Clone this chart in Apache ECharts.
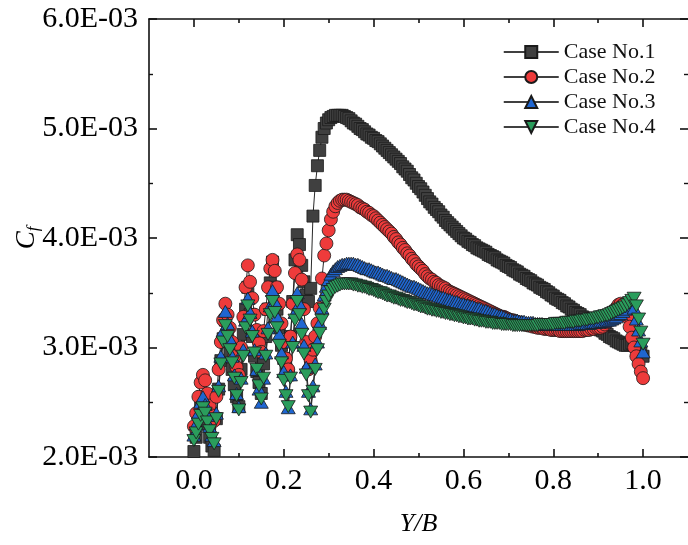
<!DOCTYPE html>
<html>
<head>
<meta charset="utf-8">
<script src="https://cdn.jsdelivr.net/npm/echarts@6/dist/echarts.min.js"></script>
<style>
  html, body { margin: 0; padding: 0; background: #ffffff; }
  #chart { width: 688px; height: 545px; }
</style>
</head>
<body>
<div id="chart"></div>
<script>
// Spanwise stations Y/B: first station and uniform spacing
const STATION_START = 0;
const STATION_STEP = 0.005;

// Skin-friction coefficient Cf, stored as Cf x 10^3 (one value per station)
const case1 = [
  2.05, 2.18, 2.32, 2.45, 2.55, 2.42, 2.30, 2.18, 2.10, 2.06,
  2.35, 2.62, 2.88, 3.08, 3.25, 3.10, 2.95, 2.80, 2.66, 2.55,
  2.46, 2.80, 3.12, 3.35, 3.55, 3.30, 3.10, 2.92, 2.78, 2.68,
  2.58, 2.85, 3.10, 3.35, 3.59, 3.78, 3.55, 3.35, 3.18, 3.02,
  2.90, 2.80, 2.75, 3.10, 3.42, 3.80, 4.03, 3.94, 3.75, 3.60,
  3.48, 3.42, 3.54, 4.20, 4.48, 4.66, 4.80, 4.92, 5.00, 5.05,
  5.08, 5.10, 5.11, 5.12, 5.12, 5.12, 5.12, 5.11, 5.10, 5.09,
  5.07, 5.05, 5.04, 5.02, 5.00, 4.99, 4.97, 4.95, 4.94, 4.92,
  4.91, 4.89, 4.88, 4.86, 4.84, 4.82, 4.80, 4.78, 4.76, 4.74,
  4.72, 4.70, 4.68, 4.65, 4.63, 4.61, 4.58, 4.55, 4.53, 4.50,
  4.47, 4.45, 4.42, 4.39, 4.36, 4.33, 4.31, 4.28, 4.26, 4.24,
  4.21, 4.19, 4.16, 4.14, 4.12, 4.10, 4.08, 4.06, 4.04, 4.02,
  4.00, 3.99, 3.97, 3.96, 3.94, 3.93, 3.91, 3.90, 3.89, 3.88,
  3.87, 3.85, 3.84, 3.83, 3.82, 3.80, 3.79, 3.78, 3.77, 3.75,
  3.74, 3.73, 3.71, 3.70, 3.69, 3.67, 3.66, 3.65, 3.63, 3.62,
  3.61, 3.59, 3.58, 3.57, 3.55, 3.54, 3.53, 3.51, 3.50, 3.48,
  3.47, 3.45, 3.44, 3.43, 3.41, 3.40, 3.38, 3.37, 3.35, 3.34,
  3.32, 3.31, 3.30, 3.28, 3.27, 3.25, 3.24, 3.22, 3.21, 3.19,
  3.18, 3.16, 3.15, 3.13, 3.12, 3.10, 3.09, 3.08, 3.06, 3.05,
  3.04, 3.03, 3.02, 3.02, 3.03, 3.04, 3.03, 3.01, 2.98, 2.95,
  2.92
];
const case2 = [
  2.28, 2.40, 2.55, 2.68, 2.75, 2.70, 2.58, 2.47, 2.38, 2.33,
  2.55, 2.80, 3.05, 3.25, 3.40, 3.30, 3.18, 3.05, 2.92, 2.82,
  2.75, 3.00, 3.28, 3.55, 3.75, 3.60, 3.45, 3.30, 3.16, 3.04,
  2.96, 3.15, 3.35, 3.55, 3.72, 3.80, 3.70, 3.55, 3.40, 3.22,
  3.05, 2.90, 2.80, 3.10, 3.40, 3.68, 3.85, 3.80, 3.62, 3.35,
  3.05, 2.80, 2.88, 2.98, 3.10, 3.22, 3.36, 3.63, 3.84, 3.95,
  4.07, 4.17, 4.24, 4.29, 4.32, 4.34, 4.35, 4.35, 4.35, 4.34,
  4.33, 4.32, 4.31, 4.30, 4.28, 4.27, 4.26, 4.24, 4.23, 4.21,
  4.20, 4.18, 4.16, 4.14, 4.12, 4.10, 4.08, 4.06, 4.04, 4.01,
  3.99, 3.96, 3.94, 3.91, 3.89, 3.86, 3.84, 3.81, 3.79, 3.76,
  3.74, 3.72, 3.70, 3.67, 3.65, 3.63, 3.62, 3.60, 3.59, 3.57,
  3.56, 3.55, 3.54, 3.52, 3.51, 3.50, 3.49, 3.48, 3.47, 3.46,
  3.45, 3.44, 3.43, 3.42, 3.41, 3.40, 3.39, 3.38, 3.37, 3.36,
  3.35, 3.34, 3.33, 3.32, 3.31, 3.30, 3.29, 3.28, 3.28, 3.27,
  3.26, 3.25, 3.25, 3.24, 3.23, 3.23, 3.22, 3.21, 3.21, 3.20,
  3.20, 3.19, 3.19, 3.18, 3.18, 3.18, 3.17, 3.17, 3.17, 3.16,
  3.16, 3.16, 3.16, 3.15, 3.15, 3.15, 3.15, 3.15, 3.15, 3.15,
  3.15, 3.15, 3.15, 3.15, 3.16, 3.16, 3.16, 3.17, 3.17, 3.18,
  3.18, 3.18, 3.19, 3.21, 3.23, 3.26, 3.29, 3.33, 3.36, 3.39,
  3.40, 3.39, 3.35, 3.28, 3.19, 3.09, 3.00, 2.92, 2.85, 2.78,
  2.72
];
const case3 = [
  2.20, 2.30, 2.40, 2.50, 2.55, 2.48, 2.38, 2.28, 2.20, 2.15,
  2.40, 2.65, 2.92, 3.15, 3.33, 3.22, 3.08, 2.92, 2.75, 2.58,
  2.46, 2.72, 2.98, 3.25, 3.45, 3.32, 3.15, 2.98, 2.80, 2.62,
  2.50, 2.72, 2.95, 3.18, 3.38, 3.52, 3.42, 3.28, 3.12, 2.95,
  2.78, 2.60, 2.45, 2.75, 3.05, 3.32, 3.50, 3.40, 3.22, 3.02,
  2.82, 2.60, 2.44, 2.65, 2.85, 3.05, 3.22, 3.36, 3.48, 3.56,
  3.62, 3.67, 3.70, 3.72, 3.74, 3.75, 3.76, 3.76, 3.77, 3.77,
  3.77, 3.77, 3.76, 3.76, 3.75, 3.74, 3.73, 3.72, 3.72, 3.71,
  3.70, 3.69, 3.69, 3.68, 3.67, 3.66, 3.66, 3.65, 3.64, 3.63,
  3.63, 3.62, 3.61, 3.60, 3.59, 3.58, 3.57, 3.56, 3.56, 3.55,
  3.54, 3.53, 3.52, 3.51, 3.50, 3.50, 3.49, 3.48, 3.48, 3.47,
  3.46, 3.46, 3.45, 3.44, 3.44, 3.43, 3.42, 3.42, 3.41, 3.40,
  3.40, 3.39, 3.39, 3.38, 3.38, 3.37, 3.36, 3.36, 3.35, 3.34,
  3.34, 3.33, 3.32, 3.31, 3.31, 3.30, 3.29, 3.29, 3.28, 3.27,
  3.26, 3.26, 3.25, 3.25, 3.25, 3.24, 3.24, 3.24, 3.23, 3.23,
  3.23, 3.23, 3.22, 3.22, 3.22, 3.22, 3.21, 3.21, 3.21, 3.21,
  3.21, 3.21, 3.21, 3.21, 3.21, 3.21, 3.21, 3.21, 3.21, 3.21,
  3.21, 3.21, 3.22, 3.22, 3.22, 3.22, 3.22, 3.23, 3.23, 3.23,
  3.23, 3.24, 3.24, 3.24, 3.25, 3.25, 3.26, 3.27, 3.28, 3.30,
  3.31, 3.33, 3.35, 3.38, 3.41, 3.43, 3.36, 3.26, 3.16, 3.06,
  2.96
];
const case4 = [
  2.15, 2.22, 2.30, 2.38, 2.45, 2.40, 2.32, 2.24, 2.17, 2.12,
  2.35, 2.60, 2.85, 3.05, 3.20, 3.10, 2.98, 2.86, 2.72, 2.56,
  2.43, 2.68, 2.92, 3.18, 3.38, 3.25, 3.10, 2.95, 2.80, 2.65,
  2.53, 2.72, 2.92, 3.12, 3.30, 3.42, 3.32, 3.18, 3.02, 2.86,
  2.70, 2.56, 2.46, 2.72, 3.00, 3.25, 3.42, 3.30, 3.12, 2.94,
  2.75, 2.56, 2.41, 2.60, 2.80, 2.98, 3.13, 3.25, 3.35, 3.42,
  3.47, 3.51, 3.53, 3.55, 3.56, 3.57, 3.58, 3.58, 3.58, 3.58,
  3.58, 3.57, 3.57, 3.56, 3.56, 3.55, 3.55, 3.54, 3.53, 3.53,
  3.52, 3.51, 3.50, 3.50, 3.49, 3.48, 3.47, 3.47, 3.46, 3.45,
  3.45, 3.44, 3.43, 3.43, 3.42, 3.41, 3.41, 3.40, 3.39, 3.39,
  3.38, 3.37, 3.37, 3.36, 3.35, 3.35, 3.34, 3.34, 3.33, 3.33,
  3.32, 3.32, 3.31, 3.31, 3.30, 3.30, 3.29, 3.29, 3.28, 3.28,
  3.27, 3.27, 3.26, 3.26, 3.26, 3.25, 3.25, 3.24, 3.24, 3.24,
  3.23, 3.23, 3.23, 3.22, 3.22, 3.22, 3.22, 3.21, 3.21, 3.21,
  3.21, 3.21, 3.20, 3.20, 3.20, 3.20, 3.20, 3.20, 3.20, 3.20,
  3.20, 3.20, 3.20, 3.20, 3.21, 3.21, 3.21, 3.21, 3.21, 3.21,
  3.21, 3.22, 3.22, 3.22, 3.22, 3.22, 3.23, 3.23, 3.23, 3.23,
  3.24, 3.24, 3.24, 3.25, 3.25, 3.25, 3.26, 3.26, 3.26, 3.27,
  3.27, 3.28, 3.28, 3.29, 3.29, 3.30, 3.31, 3.32, 3.33, 3.34,
  3.35, 3.36, 3.37, 3.39, 3.41, 3.43, 3.45, 3.38, 3.26, 3.14,
  3.03
];

const caseNames = ['Case No.1', 'Case No.2', 'Case No.3', 'Case No.4'];
const caseValues = [case1, case2, case3, case4];

// Axis ticks
const xMajorTicks = [0, 0.2, 0.4, 0.6, 0.8, 1.0];
const xMinorTicks = [0.1, 0.3, 0.5, 0.7, 0.9];
const X_MIN = -0.1, X_MAX = 1.1;
const Y_MIN = 2, Y_MAX = 6, Y_STEP = 1;

const SERIF = '"Liberation Serif", "Times New Roman", serif';
const INK = '#111111';

const markerStyles = [
  { symbol: 'rect', size: [12, 12], color: '#404040' },
  { symbol: 'circle', size: 13, color: '#ee3b3b' },
  { symbol: 'triangle', size: [14, 12], color: '#1f66d1' },
  { symbol: 'path://M0,0 L10,0 L5,9 Z', size: [14, 12], color: '#2a9d5c' }
];

const series = caseValues.map((vals, k) => ({
  name: caseNames[k],
  type: 'line',
  data: vals.map((v, i) => [STATION_START + i * STATION_STEP, v]),
  symbol: markerStyles[k].symbol,
  symbolSize: markerStyles[k].size,
  showAllSymbol: true,
  lineStyle: { color: '#2a2a2a', width: 1 },
  itemStyle: { color: markerStyles[k].color, borderColor: '#1a1a1a', borderWidth: 0.8 },
  emphasis: { disabled: true },
  animation: false
}));

function xAxisDef(position, ticks, len, withLine, withLabel) {
  return {
    type: 'value', position, min: X_MIN, max: X_MAX, interval: 0.1,
    axisLine: { show: withLine, onZero: false, lineStyle: { color: INK, width: 1.6 } },
    axisTick: { show: true, inside: true, length: len, customValues: ticks, lineStyle: { color: INK, width: 1.6 } },
    axisLabel: withLabel ? {
      show: true, customValues: ticks, margin: 9,
      color: '#000', fontFamily: SERIF, fontSize: 30,
      formatter: v => v.toFixed(1)
    } : { show: false },
    splitLine: { show: false }
  };
}

function yAxisDef(position, withLabel) {
  return {
    type: 'value', position, min: Y_MIN, max: Y_MAX, interval: Y_STEP,
    axisLine: { show: withLabel, onZero: false, lineStyle: { color: INK, width: 1.6 } },
    axisTick: { show: true, inside: true, length: 8, lineStyle: { color: INK, width: 1.6 } },
    minorTick: { show: true, splitNumber: 2, length: 4, lineStyle: { color: INK, width: 1.4 } },
    axisLabel: withLabel ? {
      show: true, margin: 11, color: '#000', fontFamily: SERIF, fontSize: 30,
      formatter: v => v.toFixed(1) + 'E-03'
    } : { show: false },
    splitLine: { show: false }
  };
}

const xBottom = xAxisDef('bottom', xMajorTicks, 8, true, true);
xBottom.name = 'Y/B';
xBottom.nameLocation = 'middle';
xBottom.nameGap = 54;
xBottom.nameMoveOverlap = false;
xBottom.nameTextStyle = { fontFamily: SERIF, fontStyle: 'italic', fontSize: 26, color: '#000' };

const yLeft = yAxisDef('left', true);
yLeft.name = '{c|C}{f|f}';
yLeft.nameLocation = 'middle';
yLeft.nameGap = 107;
yLeft.nameMoveOverlap = false;
yLeft.nameTextStyle = {
  color: '#000',
  rich: {
    c: { fontFamily: SERIF, fontStyle: 'italic', fontSize: 27, color: '#000', padding: [0, 0, 2, 0] },
    f: { fontFamily: SERIF, fontStyle: 'italic', fontSize: 17, color: '#000', verticalAlign: 'bottom' }
  }
};

const chart = echarts.init(document.getElementById('chart'), null, { renderer: 'canvas' });
chart.setOption({
  animation: false,
  backgroundColor: '#ffffff',
  grid: { left: 149, top: 19, right: 0, bottom: 88, containLabel: false, outerBoundsMode: 'none' },
  legend: {
    data: caseNames,
    orient: 'vertical',
    left: 503, top: 41,
    padding: 0,
    itemGap: 3,
    itemWidth: 55,
    itemHeight: 15,
    textStyle: { fontFamily: SERIF, fontSize: 22, color: '#111' },
    lineStyle: { color: '#000', width: 1.5 },
    selectedMode: false
  },
  xAxis: [
    xBottom,
    xAxisDef('bottom', xMinorTicks, 4, false, false),
    xAxisDef('top', xMajorTicks, 8, true, false),
    xAxisDef('top', xMinorTicks, 4, false, false)
  ],
  yAxis: [
    yLeft,
    yAxisDef('right', false)
  ],
  series
});
</script>
</body>
</html>
